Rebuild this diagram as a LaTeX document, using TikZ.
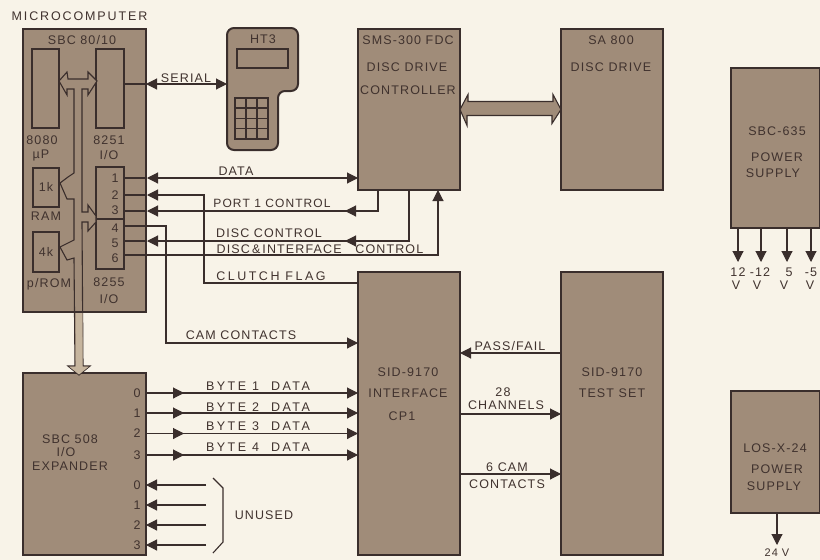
\documentclass[tikz,border=0pt]{standalone}
\usepackage{fontspec}
\setmainfont{Liberation Sans}[LetterSpace=9]
\usetikzlibrary{positioning,arrows.meta}
\definecolor{paper}{HTML}{F8F3E8}
\definecolor{boxfill}{HTML}{A08C79}
\definecolor{busfill}{HTML}{C6B59E}
\definecolor{ink}{HTML}{3A2E2C}
\definecolor{lettering}{HTML}{40322E}

\begin{document}
\begin{tikzpicture}[
	x=1pt, y=-1pt,
	font=\fontsize{12.5}{14}\selectfont,
	block/.style={
		draw=ink,
		fill=boxfill,
		line width=2pt,
		rectangle,
		inner sep=0pt,
		outer sep=0pt,
	},
	chip/.style={
		draw=ink,
		line width=1.6pt,
		rectangle,
		inner sep=0pt,
		outer sep=0pt,
	},
	txt/.style={text=lettering, inner sep=0pt, outer sep=0pt},
	wide/.style={txt, font=\fontsize{12.5}{14}\selectfont\addfontfeature{LetterSpace=20}},
	wire/.style={draw=ink, line width=1.1pt},
	sig/.style={wire, -{Triangle[length=11pt,width=11pt]}},
	sigboth/.style={wire, {Triangle[length=11pt,width=11pt]}-{Triangle[length=11pt,width=11pt]}},
	bus/.style={draw=ink, line width=1.1pt, line join=miter},
]

\path[use as bounding box, fill=paper] (0,0) rectangle (820,560);

\node[txt, font=\fontsize{12.5}{14}\selectfont\addfontfeature{LetterSpace=15}] (title) at (79.5,16) {MICROCOMPUTER};

% large blocks
\node[block, minimum width=123pt, minimum height=283pt] (sbc) at (84.5,170.5) {};
\node[block, minimum width=123pt, minimum height=182pt, below=61pt of sbc] (expander) {};
\node[block, minimum width=102pt, minimum height=161pt] (sms) at (409,109.5) {};
\node[block, minimum width=102pt, minimum height=161pt, right=101pt of sms] (drive) {};
\node[block, minimum width=102pt, minimum height=283pt, below=82pt of sms] (sid) {};
\node[block, minimum width=102pt, minimum height=283pt, right=101pt of sid] (testset) {};
\node[block, minimum width=89pt, minimum height=160pt] (psu) at (775.5,148) {};
\node[block, minimum width=89pt, minimum height=122pt, below=163pt of psu] (los) {};

% parts of the SBC
\node[chip, minimum width=27pt, minimum height=79pt] (cpu) at (45.5,88.5) {};
\node[chip, minimum width=28pt, minimum height=79pt, right=37pt of cpu] (uart) {};
\node[chip, minimum width=26pt, minimum height=39pt] (ram) at (46,187.5) {};
\node[chip, minimum width=26pt, minimum height=40pt] (rom) at (46,252) {};
\node[chip, minimum width=28pt, minimum height=52pt] (portsa) at (110,193) {};
\node[chip, minimum width=28pt, minimum height=50pt, below=0pt of portsa] (portsb) {};

% internal bus, and its run down to the expander
\draw[bus, fill=boxfill] (59,81) -- (67,72) -- (68,79) -- (88,79) -- (88,72) -- (97,81)
	-- (88,95) -- (88,89) -- (82,89) -- (82,212) -- (88,212) -- (88,205) -- (96,216)
	-- (96,222) -- (88,231) -- (88,222) -- (82,222) -- (83,366) -- (90,366)
	-- (79,375) -- (68,366) -- (75,366) -- (74,258) -- (67,260) -- (60,247) -- (68,243)
	-- (74,240) -- (74,199) -- (67,199) -- (60,183) -- (68,177) -- (74,173)
	-- (74,89) -- (67,89) -- (67,95) -- cycle;
\fill[busfill] (75.5,313) -- (82.5,313) -- (82.5,366.5) -- (89,366.5) -- (79,374.5) -- (69,366.5)
	-- (75.5,366.5) -- cycle;
\draw[block, fill=none] (sbc.south west) -- (sbc.south east);

\node[txt] (sbcname) at (82,40) {SBC 80/10};
\node[txt] (cpuname) at (42,140) {8080};
\node[txt] (cpuunit) at (41,155) {µP};
\node[txt] (uartname) at (109,140) {8251};
\node[txt] (uartunit) at (109,155) {I/O};
\node[txt] (ramsize) at (46,187) {1k};
\node[txt] (ramname) at (46,216) {RAM};
\node[txt] (romsize) at (46,252) {4k};
\node[txt] (romname) at (49,284) {p/ROM};
\node[txt] (pioname) at (109,282) {8255};
\node[txt] (piounit) at (109,299) {I/O};

\foreach \n/\y in {1/178,2/195,3/210,4/228,5/243,6/258}
	\node[txt] (p\n) at (115,\y) {\n};
\foreach \n/\y in {1/178,2/195,3/211,4/226,5/241,6/255}
	\coordinate (l\n) at (147,\y);

% handheld terminal
\draw[block, rounded corners=7pt] (227,28) -- (298,28) -- (298,91) -- (278,91) -- (278,150)
	-- (227,150) -- cycle;
\coordinate (hand) at (227,84);
\node[txt] (htname) at (263,39) {HT3};
\node[chip, minimum width=51pt, minimum height=19pt] (screen) at (262.5,58.5) {};
\foreach \c in {0,1,2}
	\foreach \r in {0,1,2,3}
		\node[chip, minimum width=11pt, minimum height=10.25pt] (key\c\r) at (240.5+11*\c,103+10.25*\r) {};

\draw[wire] (uart.east |- hand) -- (sbc.east |- hand);
\draw[sigboth] (sbc.east |- hand) -- (hand);
\node[txt] (seriallabel) at (186,78) {SERIAL};

% disc drive bus
\draw[bus, fill=boxfill] (sms.east) -- ++(8,-15) -- ++(0,7) -- ++(85,0) -- ++(0,-7)
	-- (drive.west) -- ++(-9,14) -- ++(0,-8) -- ++(-85,0) -- ++(0,10) -- cycle;

\node[txt] (smsname) at (408,40) {SMS-300 FDC};
\node[txt] (smsdisc) at (407,67) {DISC DRIVE};
\node[txt] (smsctl) at (408,90) {CONTROLLER};
\node[txt] (drivename) at (611,40) {SA 800};
\node[txt] (drivedisc) at (611,67) {DISC DRIVE};

% ports to controller and interface
\foreach \n/\b in {1/portsa,2/portsa,3/portsa,4/portsb,5/portsb,6/portsb}
	\draw[wire] (\b.east |- l\n) -- (l\n);

\draw[sigboth] (l1) -- (l1 -| sms.west);
\node[txt] (datalabel) at (236,171) {DATA};

\coordinate (portctl) at (378,211);
\draw[sig] (portctl |- sms.south) -- (portctl) -- (l3);
\draw[sig] (portctl) -- ++(-33,0);
\node[txt, font=\fontsize{12}{14}\selectfont] (portlabel) at (272,203) {PORT 1 CONTROL};

\coordinate (discctl) at (409,241);
\draw[sig] (discctl |- sms.south) -- (discctl) -- (l5);
\draw[sig] (discctl) -- ++(-64,0);
\node[txt] (disclabel) at (269,233) {DISC CONTROL};

\coordinate (ifctl) at (438,255);
\draw[sig] (l6) -- (ifctl) -- (ifctl |- sms.south);
\node[txt] (iflabel) at (320,249) {DISC\,\&\,INTERFACE\ \ \ CONTROL};

\coordinate (clutch) at (204,283);
\draw[sig] (clutch -| sid.west) -- (clutch) -- (clutch |- l2) -- (l2);
\node[wide] (clutchlabel) at (271,276) {CLUTCH FLAG};

\coordinate (cam) at (166,343);
\draw[sig] (l4) -- (cam |- l4) -- (cam) -- (cam -| sid.west);
\node[txt] (camlabel) at (241,335) {CAM CONTACTS};

% expander
\node[txt] (expname) at (70,439) {SBC 508};
\node[txt] (expunit) at (66,452) {I/O};
\node[txt] (exptype) at (70,466) {EXPANDER};

\foreach \n/\y/\t/\b in {0/393/386/1,1/413/407/2,2/433.5/426/3,3/455/447/4} {
	\node[txt] (out\n) at (137,\y) {\n};
	\draw[sig] (expander.east |- out\n) -- ++(38,0);
	\draw[sig] (expander.east |- out\n) -- (out\n -| sid.west);
	\node[wide] (byte\n) at (258,\t) {BYTE \b\ \ DATA};
}
\foreach \n/\y in {0/485,1/505,2/525,3/545} {
	\node[txt] (in\n) at (137,\y) {\n};
	\coordinate (free\n) at (206,\y);
	\draw[sig] (free\n) -- (in\n -| expander.east);
}
\draw[wire] (213,478) -- (223,488) -- (223,542) -- (213,553);
\node[txt] (unused) at (264,515) {UNUSED};

% interface and test set
\node[txt] (sidname) at (408,372) {SID-9170};
\node[txt] (sidtype) at (408,393) {INTERFACE};
\node[txt] (sidcp) at (402,416) {CP1};
\node[txt] (testname) at (612,372) {SID-9170};
\node[txt] (testtype) at (612,393) {TEST SET};

\coordinate (pass) at (561,353);
\coordinate (chan) at (561,414);
\coordinate (contacts) at (561,474);
\draw[sig] (pass) -- (pass -| sid.east);
\draw[sig] (chan -| sid.east) -- (chan);
\draw[sig] (contacts -| sid.east) -- (contacts);
\node[txt] (passlabel) at (510,346) {PASS/FAIL};
\node[txt] (chanvalue) at (503,392) {28};
\node[txt] (chanlabel) at (506,405) {CHANNELS};
\node[txt] (contvalue) at (507,467) {6 CAM};
\node[txt] (contlabel) at (507,484) {CONTACTS};

% power supplies
\node[txt] (psuname) at (777,131) {SBC-635};
\node[txt] (psupower) at (777,157) {POWER};
\node[txt] (psusupply) at (773,173) {SUPPLY};
\foreach \n/\x/\v/\u/\w in {a/738/738/736/12,b/761/760/757/-12,c/787/789/784/5,d/811/811/810/-5} {
	\coordinate (leg\n) at (\x,262);
	\draw[sig] (leg\n |- psu.south) -- (leg\n);
	\node[txt] (volt\n) at (\v,272) {\w};
	\node[txt] (unit\n) at (\u,285) {V};
}

\node[txt] (losname) at (775,448) {LOS-X-24};
\node[txt] (lospower) at (777,469) {POWER};
\node[txt] (lossupply) at (774,486) {SUPPLY};
\coordinate (losleg) at (777,545);
\draw[sig] (losleg |- los.south) -- (losleg);
\node[txt, font=\fontsize{11}{12}\selectfont] (losvolt) at (777,553) {24 V};

\end{tikzpicture}
\end{document}
